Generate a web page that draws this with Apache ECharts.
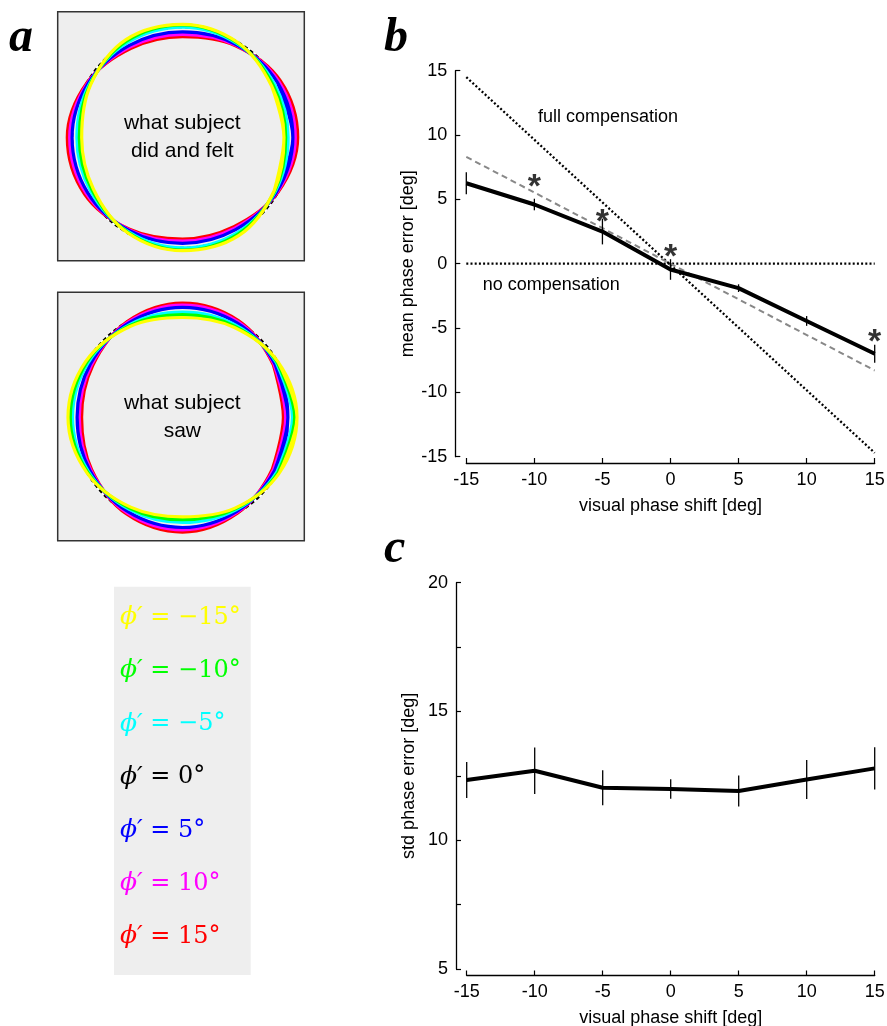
<!DOCTYPE html>
<html><head><meta charset="utf-8">
<script src="https://cdn.jsdelivr.net/npm/echarts@6/dist/echarts.min.js"></script>
<style>html,body{margin:0;padding:0;background:#fff}#chart{width:887px;height:1026px}</style>
</head><body><div id="chart"></div>
<script>
// ---------- data ----------
const shifts = [-15, -10, -5, 0, 5, 10, 15];
const meanPhaseError = [6.25, 4.6, 2.5, -0.45, -1.9, -4.45, -7.0];
const meanPhaseErrorBar = [0.85, 0.45, 1.0, 0.8, 0.3, 0.38, 0.7];
const stdPhaseError = [12.34, 12.70, 12.04, 11.99, 11.91, 12.36, 12.79];
const stdPhaseErrorBar = [0.7, 0.9, 0.68, 0.38, 0.6, 0.76, 0.82];
const starShifts = [-10, -5, 0, 15];
const starLevels = [6.6, 3.85, 1.1, -5.5];
const refShifts = [-15, 15];
const fullCompensation = [14.5, -14.7];
const noCompensation = [0, 0];
const fitLine = [8.3, -8.3];
const bTickLabels = [-15, -10, -5, 0, 5, 10, 15];
const cTickLabels = [5, 10, 15, 20];
const legendShifts = ['\u221215', '\u221210', '\u22125', '0', '5', '10', '15'];
const curveAngles = [0, 30, 60, 90, 120, 150, 180, 210, 240, 270, 300, 330];
// "what subject did and felt": curve radii at curveAngles (px scale)
const feltM15 = [101.5, 102.9, 110.0, 113.2, 113.1, 106.0, 100.8, 102.9, 110.0, 113.2, 113.1, 106.0];
const feltM10 = [103.2, 104.6, 109.4, 112.6, 111.4, 106.6, 103.2, 104.6, 109.4, 112.6, 111.4, 106.6];
const feltM5  = [105.6, 106.3, 108.7, 110.4, 109.7, 107.3, 105.6, 106.3, 108.7, 110.4, 109.7, 107.3];
const felt0   = [110.3, 110.3, 110.3, 110.3, 110.3, 110.3, 110.3, 110.3, 110.3, 110.3, 110.3, 110.3];
const feltP5  = [110.4, 109.7, 107.3, 105.6, 106.3, 108.7, 110.4, 109.7, 107.3, 105.8, 106.3, 108.7];
const feltP10 = [112.8, 111.4, 106.6, 103.2, 104.6, 109.4, 112.8, 111.4, 106.6, 103.6, 104.6, 109.4];
const feltP15 = [115.2, 113.1, 106.0, 100.8, 102.9, 110.0, 115.2, 113.1, 106.0, 101.5, 102.9, 110.0];
// "what subject saw"
const sawM15 = [114.5, 110.5, 103.7, 99.8, 104.9, 111.7, 114.5, 110.5, 103.7, 99.5, 104.9, 111.7];
const sawM10 = [112.2, 109.6, 105.0, 102.6, 105.8, 110.4, 112.2, 109.6, 105.0, 102.4, 105.8, 110.4];
const sawM5  = [110.0, 108.6, 106.4, 105.2, 106.8, 109.0, 110.0, 108.6, 106.4, 105.2, 106.8, 109.0];
const saw0   = [110.4, 110.4, 110.4, 110.4, 110.4, 110.4, 110.4, 110.4, 110.4, 110.4, 110.4, 110.4];
const sawP5  = [105.4, 106.8, 109.0, 110.0, 108.6, 106.4, 105.4, 106.8, 109.0, 110.2, 108.6, 106.4];
const sawP10 = [103.2, 105.8, 110.4, 112.2, 109.6, 105.0, 103.2, 105.8, 110.4, 112.5, 109.6, 105.0];
const sawP15 = [100.9, 104.9, 111.7, 114.2, 110.5, 103.7, 100.9, 104.9, 111.7, 114.8, 110.5, 103.7];

// ---------- styling ----------
const curveColors = ['#ffff00', '#00ff00', '#00ffff', '#000000', '#0000ff', '#ff00ff', '#ff0000'];
const SANS = 'Liberation Sans, Arial, sans-serif';

function closedLoop(radii) {
  const n = radii.length, out = [];
  for (let i = -1; i <= n + 1; i++) {
    const k = ((i % n) + n) % n;
    const turn = Math.floor(i / n);
    out.push([radii[k], curveAngles[k] + 360 * turn]);
  }
  return out;
}

const series = [];
function addFamily(polarIndex, curves) {
  // 0° curve (white with black dashes) underneath, then red ... yellow
  series.push({
    type: 'line', coordinateSystem: 'polar', polarIndex,
    data: closedLoop(curves[3]), smooth: 0.35, showSymbol: false, silent: true,
    lineStyle: { color: '#ffffff', width: 2 }, z: 1
  });
  series.push({
    type: 'line', coordinateSystem: 'polar', polarIndex,
    data: closedLoop(curves[3]), smooth: 0.35, showSymbol: false, silent: true,
    lineStyle: { color: '#000000', width: 2, type: [4, 3] }, z: 1
  });
  [6, 5, 4, 2, 1, 0].forEach(i => {
    series.push({
      type: 'line', coordinateSystem: 'polar', polarIndex,
      data: closedLoop(curves[i]), smooth: 0.35, showSymbol: false, silent: true,
      lineStyle: { color: curveColors[i], width: 3.2 }, z: 2
    });
  });
}
addFamily(0, [feltM15, feltM10, feltM5, felt0, feltP5, feltP10, feltP15]);
addFamily(1, [sawM15, sawM10, sawM5, saw0, sawP5, sawP10, sawP15]);

function errorBarRender(params, api) {
  const x = api.value(0);
  const p1 = api.coord([x, api.value(1)]);
  const p2 = api.coord([x, api.value(2)]);
  return { type: 'line', shape: { x1: p1[0], y1: p1[1], x2: p2[0], y2: p2[1] },
           style: { stroke: '#000', lineWidth: 1.3 } };
}

// panel b
const dotted = { color: '#000', width: 2.3, type: [2, 2.2] };
series.push({
  type: 'line', xAxisIndex: 0, yAxisIndex: 0, silent: true, showSymbol: false,
  data: refShifts.map((x, i) => [x, fullCompensation[i]]), lineStyle: dotted, z: 2
});
series.push({
  type: 'line', xAxisIndex: 0, yAxisIndex: 0, silent: true, showSymbol: false,
  data: refShifts.map((x, i) => [x, noCompensation[i]]), lineStyle: dotted, z: 2
});
series.push({
  type: 'line', xAxisIndex: 0, yAxisIndex: 0, silent: true, showSymbol: false,
  data: refShifts.map((x, i) => [x, fitLine[i]]),
  lineStyle: { color: '#888888', width: 2, type: [6, 4] }, z: 2
});
series.push({
  type: 'line', xAxisIndex: 0, yAxisIndex: 0, silent: true, showSymbol: false,
  data: shifts.map((x, i) => [x, meanPhaseError[i]]),
  lineStyle: { color: '#000', width: 4 }, z: 4
});
series.push({
  type: 'custom', xAxisIndex: 0, yAxisIndex: 0, silent: true,
  renderItem: errorBarRender, encode: { x: 0, y: [1, 2] },
  data: shifts.map((x, i) => [x, meanPhaseError[i] - meanPhaseErrorBar[i], meanPhaseError[i] + meanPhaseErrorBar[i]]),
  z: 5
});
series.push({
  type: 'scatter', xAxisIndex: 0, yAxisIndex: 0, silent: true,
  data: starShifts.map((x, i) => [x, starLevels[i]]),
  symbolSize: 1, itemStyle: { color: 'rgba(0,0,0,0)' },
  label: { show: true, position: 'inside', formatter: '*', color: '#000',
           fontSize: 34, fontWeight: 'bold', fontFamily: SANS, offset: [0, 8.5] },
  z: 6
});
// panel c
series.push({
  type: 'line', xAxisIndex: 1, yAxisIndex: 1, silent: true, showSymbol: false,
  data: shifts.map((x, i) => [x, stdPhaseError[i]]),
  lineStyle: { color: '#000', width: 4 }, z: 4
});
series.push({
  type: 'custom', xAxisIndex: 1, yAxisIndex: 1, silent: true,
  renderItem: errorBarRender, encode: { x: 0, y: [1, 2] },
  data: shifts.map((x, i) => [x, stdPhaseError[i] - stdPhaseErrorBar[i], stdPhaseError[i] + stdPhaseErrorBar[i]]),
  z: 5
});

function axisCommon(extra) {
  return Object.assign({
    type: 'value',
    axisLine: { onZero: false, lineStyle: { color: '#000', width: 1.3 } },
    axisTick: { inside: true, length: 5, lineStyle: { color: '#000', width: 1.2 } },
    axisLabel: { color: '#000', fontSize: 18, fontFamily: SANS, margin: 8 },
    splitLine: { show: false },
    nameLocation: 'middle',
    nameTextStyle: { color: '#000', fontSize: 18, fontFamily: SANS }
  }, extra);
}

const legendGraphics = legendShifts.map((s, i) => ({
  type: 'text', x: 120, y: 617.8 + i * 53.15, z: 100,
  style: {
    text: '{p|\u03D5\u2032}{t| = ' + s + '\u00B0}',
    verticalAlign: 'middle',
    rich: {
      p: { fill: curveColors[i], fontSize: 25, fontStyle: 'italic', fontFamily: 'DejaVu Serif' },
      t: { fill: curveColors[i], fontSize: 24, fontFamily: 'DejaVu Serif' }
    }
  }
}));

const panelLabel = (t, x, y) => ({
  type: 'text', x, y, z: 100,
  style: { text: t, fill: '#000', fontSize: 48, fontWeight: 'bold', fontStyle: 'italic',
           fontFamily: 'Liberation Serif, serif', verticalAlign: 'middle' }
});

const option = {
  animation: false,
  backgroundColor: '#ffffff',
  grid: [
    { left: 466.3, top: 70.7, width: 408.4, height: 386, outerBoundsMode: 'none', containLabel: false },
    { left: 466.7, top: 582.7, width: 408, height: 386.3, outerBoundsMode: 'none', containLabel: false }
  ],
  xAxis: [
    axisCommon({ gridIndex: 0, min: -15, max: 15, interval: 5, position: 'bottom', offset: 6.3,
                 name: 'visual phase shift [deg]', nameGap: 34 }),
    axisCommon({ gridIndex: 1, min: -15, max: 15, interval: 5, position: 'bottom', offset: 6.5,
                 name: 'visual phase shift [deg]', nameGap: 34 })
  ],
  yAxis: [
    axisCommon({ gridIndex: 0, min: -15, max: 15, interval: 5, position: 'left', offset: 11,
                 name: 'mean phase error [deg]', nameRotate: 90, nameGap: 38,
                 axisLabel: { color: '#000', fontSize: 18, fontFamily: SANS, margin: 8,
                              formatter: v => bTickLabels.includes(v) ? String(v) : '' } }),
    axisCommon({ gridIndex: 1, min: 5, max: 20, interval: 2.5, position: 'left', offset: 10.7,
                 name: 'std phase error [deg]', nameRotate: 90, nameGap: 38,
                 axisLabel: { color: '#000', fontSize: 18, fontFamily: SANS, margin: 8,
                              formatter: v => cTickLabels.includes(v) ? String(v) : '' } })
  ],
  polar: [
    { center: [182.5, 137.5], radius: 120 },
    { center: [182.5, 417.3], radius: 120 }
  ],
  angleAxis: [
    { polarIndex: 0, type: 'value', min: 0, max: 360, startAngle: 0, clockwise: false, show: false },
    { polarIndex: 1, type: 'value', min: 0, max: 360, startAngle: 0, clockwise: false, show: false }
  ],
  radiusAxis: [
    { polarIndex: 0, type: 'value', min: 0, max: 120, show: false },
    { polarIndex: 1, type: 'value', min: 0, max: 120, show: false }
  ],
  graphic: [
    { type: 'rect', z: -10, shape: { x: 57.7, y: 11.7, width: 246.6, height: 249 },
      style: { fill: '#eeeeee', stroke: '#333333', lineWidth: 1.5 } },
    { type: 'rect', z: -10, shape: { x: 57.7, y: 292.3, width: 246.6, height: 248.4 },
      style: { fill: '#eeeeee', stroke: '#333333', lineWidth: 1.5 } },
    { type: 'text', x: 182.3, y: 137.3, z: 100,
      style: { text: 'what subject\ndid and felt', fill: '#000', fontSize: 21, fontFamily: SANS,
               align: 'center', verticalAlign: 'middle', lineHeight: 27.3 } },
    { type: 'text', x: 182.3, y: 417.3, z: 100,
      style: { text: 'what subject\nsaw', fill: '#000', fontSize: 21, fontFamily: SANS,
               align: 'center', verticalAlign: 'middle', lineHeight: 27.3 } },
    { type: 'rect', z: -10, shape: { x: 114, y: 586.7, width: 136.7, height: 388.3 },
      style: { fill: '#eeeeee' } },
    ...legendGraphics,
    { type: 'text', x: 538, y: 116.7, z: 100,
      style: { text: 'full compensation', fill: '#000', fontSize: 18, fontFamily: SANS, verticalAlign: 'middle' } },
    { type: 'text', x: 482.7, y: 285, z: 100,
      style: { text: 'no compensation', fill: '#000', fontSize: 18, fontFamily: SANS, verticalAlign: 'middle' } },
    panelLabel('a', 9, 39),
    panelLabel('b', 384, 39),
    panelLabel('c', 384, 550)
  ],
  series
};

const chart = echarts.init(document.getElementById('chart'), null, { renderer: 'canvas' });
chart.setOption(option);
</script>
</body></html>
